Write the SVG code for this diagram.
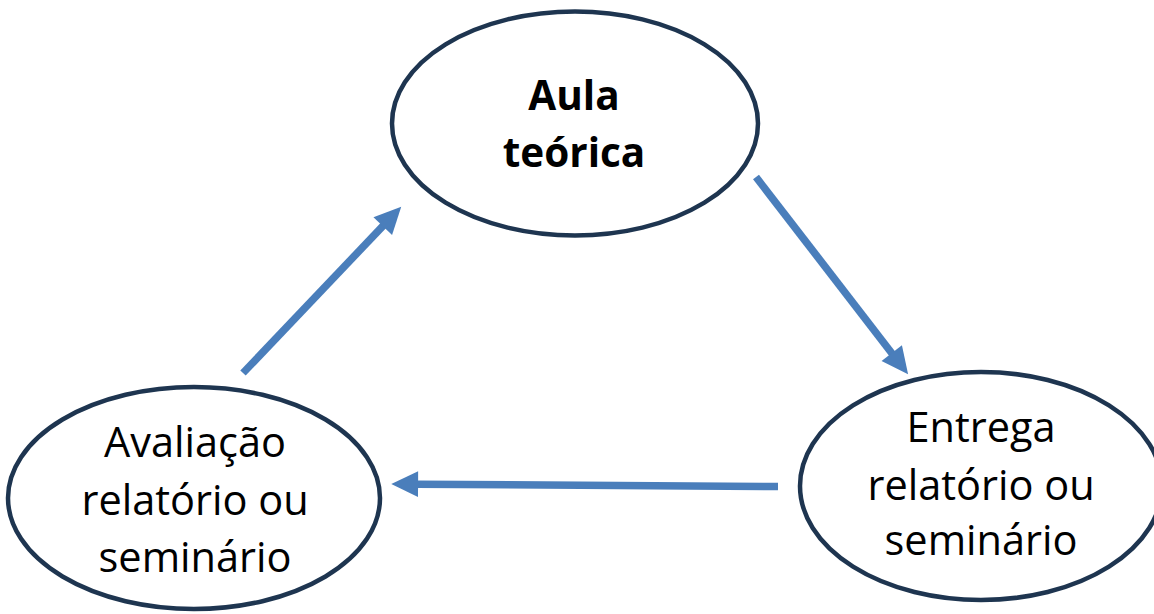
<svg xmlns="http://www.w3.org/2000/svg" width="1154" height="614" viewBox="0 0 1154 614">
<style>
.node ellipse{fill:#ffffff;stroke:#1e3550;stroke-width:4.5}
.lbl{font-family:"Open Sans","Liberation Sans",sans-serif;font-size:41.5px;fill:#000;text-anchor:middle}
.b{font-weight:bold;font-size:40.5px}
.conn line{stroke:#4a7ebb;stroke-width:7.5;stroke-linecap:butt}
</style>
<defs>
<marker id="ah" markerUnits="userSpaceOnUse" markerWidth="30" markerHeight="30" viewBox="-2 -13 28 26" refX="0" refY="0" orient="auto">
<path d="M-1,-12 L24,0 L-1,12 Z" fill="#4a7ebb"/>
</marker>
</defs>
<rect width="1154" height="614" fill="#ffffff"/>
<g id="n-aula" class="node">
<ellipse cx="575" cy="123.5" rx="183" ry="112"/>
<text class="lbl b" x="574" y="110">Aula</text>
<text class="lbl b" x="574" y="167">teórica</text>
</g>
<g id="n-avaliacao" class="node">
<ellipse cx="194" cy="498" rx="186" ry="111"/>
<text class="lbl" x="195" y="457">Avaliação</text>
<text class="lbl" x="195" y="515">relatório ou</text>
<text class="lbl" x="195" y="572">seminário</text>
</g>
<g id="n-entrega" class="node">
<ellipse cx="981" cy="486" rx="181" ry="114"/>
<text class="lbl" x="981" y="442">Entrega</text>
<text class="lbl" x="981" y="500">relatório ou</text>
<text class="lbl" x="981" y="555">seminário</text>
</g>
<g id="connectors" class="conn">
<line x1="243" y1="373" x2="383.5" y2="225.4" marker-end="url(#ah)"/>
<line x1="756" y1="177" x2="892.4" y2="354" marker-end="url(#ah)"/>
<line x1="778" y1="486.5" x2="417" y2="484.2" marker-end="url(#ah)"/>
</g>
</svg>
